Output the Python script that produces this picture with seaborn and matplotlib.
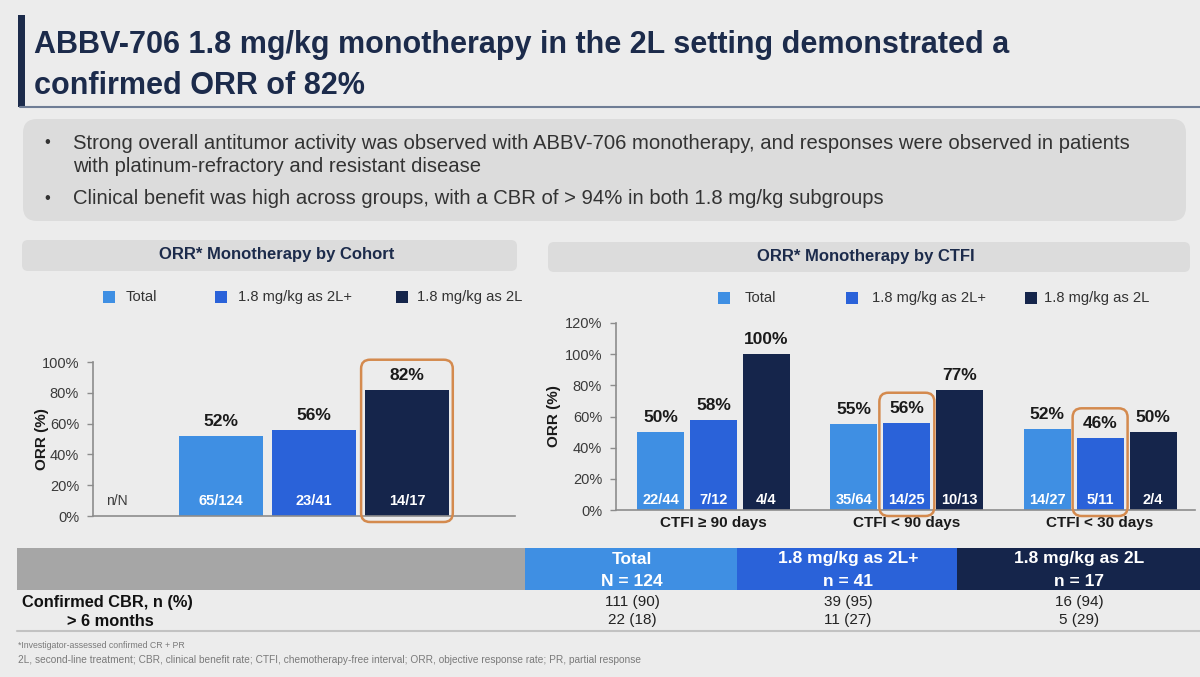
import matplotlib
matplotlib.use('Agg')
import matplotlib.pyplot as plt
import seaborn as sns
import pandas as pd
from matplotlib.patches import FancyBboxPatch, Rectangle
from matplotlib.lines import Line2D

# ---- data ----
series = ['Total', '1.8 mg/kg as 2L+', '1.8 mg/kg as 2L']
cohort_orr = [52, 56, 82]
cohort_nN = ['65/124', '23/41', '14/17']

ctfi_groups = ['CTFI ≥ 90 days', 'CTFI < 90 days', 'CTFI < 30 days']
ctfi_total = [50, 55, 52]
ctfi_2lplus = [58, 56, 46]
ctfi_2l = [100, 77, 50]
ctfi_nN_total = ['22/44', '35/64', '14/27']
ctfi_nN_2lplus = ['7/12', '14/25', '5/11']
ctfi_nN_2l = ['4/4', '10/13', '2/4']

table_cols = ['Total', '1.8 mg/kg as 2L+', '1.8 mg/kg as 2L']
table_ns = ['N = 124', 'n = 41', 'n = 17']
row_labels = ['Confirmed CBR, n (%)', '> 6 months']
cbr_all = ['111 (90)', '39 (95)', '16 (94)']
cbr_6m = ['22 (18)', '11 (27)', '5 (29)']

title_lines = ['ABBV-706 1.8 mg/kg monotherapy in the 2L setting demonstrated a',
               'confirmed ORR of 82%']
bullets = ['Strong overall antitumor activity was observed with ABBV-706 monotherapy, and responses were observed in patients\nwith platinum-refractory and resistant disease',
           'Clinical benefit was high across groups, with a CBR of > 94% in both 1.8 mg/kg subgroups']
footnotes = ['*Investigator-assessed confirmed CR + PR',
             '2L, second-line treatment; CBR, clinical benefit rate; CTFI, chemotherapy-free interval; ORR, objective response rate; PR, partial response']

# ---- style ----
colors = ['#3f8fe3', '#2a62d9', '#15254b']
navy = '#1c2b4b'
orange = '#d48a4e'
bg = '#ececec'
W, H = 1200, 677

sns.set_theme(style='white')
plt.rcParams['font.family'] = ['Liberation Sans', 'DejaVu Sans']

fig = plt.figure(figsize=(W / 100, H / 100), dpi=100)
fig.patch.set_facecolor(bg)


def fx(x):
    return x / W


def fy(y):
    return 1 - y / H


def rbox(x0, y0, x1, y1, fc, ec='none', lw=0, r=8):
    # rounded box in pixel coords (top-left origin), drawn in inches so corners stay round
    b = FancyBboxPatch((x0 / 100, (H - y1) / 100), (x1 - x0) / 100, (y1 - y0) / 100,
                       boxstyle=f'round,pad=0,rounding_size={r / 100}',
                       transform=fig.dpi_scale_trans, fc=fc, ec=ec, lw=lw)
    fig.add_artist(b)


def highlight(ax, bar):
    # orange frame around a bar and its label
    x0, y0 = ax.transData.transform((bar.get_x(), 0))
    x1, y1 = ax.transData.transform((bar.get_x() + bar.get_width(), bar.get_height()))
    b = FancyBboxPatch(((x0 - 4) / 100, (y0 - 6) / 100), (x1 - x0 + 8) / 100, (y1 - y0 + 36) / 100,
                       boxstyle='round,pad=0,rounding_size=0.09',
                       transform=fig.dpi_scale_trans, fc='none', ec=orange, lw=1.8)
    fig.add_artist(b)


# ---- title ----
fig.add_artist(Rectangle((fx(18), fy(107)), 7 / W, 92 / H, transform=fig.transFigure,
                         color=navy, lw=0))
fig.add_artist(Line2D([fx(20), fx(1200)], [fy(107), fy(107)], color='#6f7d95', lw=1.5))
fig.text(fx(34), fy(45), title_lines[0], fontsize=22, fontweight='bold', color=navy, va='center')
fig.text(fx(34), fy(86), title_lines[1], fontsize=22, fontweight='bold', color=navy, va='center')

# ---- bullet box ----
rbox(23, 119, 1186, 221, '#dcdcdc', r=14)
fig.text(fx(44), fy(142), '•', fontsize=12, color='#333333', va='center')
fig.text(fx(73), fy(155), bullets[0], fontsize=14.6, color='#333333', va='center', linespacing=1.32)
fig.text(fx(44), fy(199), '•', fontsize=12, color='#333333', va='center')
fig.text(fx(73), fy(199), bullets[1], fontsize=14.6, color='#333333', va='center')

# ---- chart headers ----
rbox(22, 240, 517, 271, '#dcdcdc', r=6)
fig.text(fx(277), fy(255), 'ORR* Monotherapy by Cohort', fontsize=12, fontweight='bold',
         color=navy, ha='center', va='center')
rbox(548, 242, 1190, 272, '#dcdcdc', r=6)
fig.text(fx(866), fy(257), 'ORR* Monotherapy by CTFI', fontsize=12, fontweight='bold',
         color=navy, ha='center', va='center')


def legend(xs_sq, xs_txt, y):
    for xs, xt, lab, c in zip(xs_sq, xs_txt, series, colors):
        fig.add_artist(Rectangle((fx(xs), fy(y + 6)), 12 / W, 12 / H,
                                 transform=fig.transFigure, color=c, lw=0))
        fig.text(fx(xt), fy(y), lab, fontsize=10.6, color='#333333', va='center')


legend([103, 215, 396], [126, 238, 417], 297)
legend([718, 846, 1025], [745, 872, 1044], 298)


def style_axis(ax):
    ax.set_facecolor('none')
    for s in ['top', 'right']:
        ax.spines[s].set_visible(False)
    for s in ['left', 'bottom']:
        ax.spines[s].set_color('#8c8c8c')
        ax.spines[s].set_linewidth(1.2)
    ax.tick_params(axis='y', which='both', left=True, length=4, width=1, color='#8c8c8c',
                   labelsize=10.5, labelcolor='#3a3a3a', pad=6)
    ax.tick_params(axis='x', length=0)
    ax.yaxis.set_major_formatter(matplotlib.ticker.FuncFormatter(lambda v, p: f'{v:.0f}%'))


# ---- left chart: ORR by cohort ----
ax1 = fig.add_axes([fx(93), fy(516), 422 / W, 154 / H])
sns.barplot(x=series, y=cohort_orr, hue=series, palette=colors, width=0.9,
            legend=False, ax=ax1, errorbar=None, saturation=1, linewidth=0, edgecolor='none')
style_axis(ax1)
ax1.set_ylim(0, 100)
ax1.set_yticks(range(0, 101, 20))
ax1.set_xlim(-1.376, 3.162)
ax1.set_xticks([])
ax1.set_xlabel('')
ax1.set_ylabel('ORR (%)', fontsize=11, fontweight='bold', color='#1a1a1a')
ax1.yaxis.set_label_coords(-0.105, 0.5)

bars1 = [p for c in ax1.containers for p in c]
for bar, v, nn in zip(bars1, cohort_orr, cohort_nN):
    cx = bar.get_x() + bar.get_width() / 2
    ax1.annotate(f'{v}%', (cx, v), xytext=(0, 5), textcoords='offset points',
                 ha='center', va='bottom', fontsize=12.5, fontweight='bold', color='#1a1a1a')
    ax1.annotate(nn, (cx, 0), xytext=(0, 11), textcoords='offset points',
                 ha='center', va='center', fontsize=10.5, fontweight='bold', color='white')
ax1.annotate('n/N', (-1.12, 0), xytext=(0, 11), textcoords='offset points',
             ha='center', va='center', fontsize=10, color='#3a3a3a')
highlight(ax1, bars1[2])

# ---- right chart: ORR by CTFI ----
df = pd.DataFrame({
    'group': ctfi_groups * 3,
    'series': [s for s in series for _ in ctfi_groups],
    'orr': ctfi_total + ctfi_2lplus + ctfi_2l,
})
ax2 = fig.add_axes([fx(616), fy(510), 579 / W, 187 / H])
sns.barplot(data=df, x='group', y='orr', hue='series', order=ctfi_groups, hue_order=series,
            palette=colors, width=0.822, gap=0.113, legend=False, ax=ax2, errorbar=None,
            saturation=1, linewidth=0, edgecolor='none')
style_axis(ax2)
ax2.set_ylim(0, 120)
ax2.set_yticks(range(0, 121, 20))
ax2.set_xlim(-0.505, 2.491)
ax2.set_xlabel('')
ax2.set_ylabel('ORR (%)', fontsize=11, fontweight='bold', color='#1a1a1a')
ax2.yaxis.set_label_coords(-0.095, 0.5)
ax2.tick_params(axis='x', labelsize=11, pad=4)
for t in ax2.get_xticklabels():
    t.set_fontweight('bold')
    t.set_color('#1a1a1a')

vals = [ctfi_total, ctfi_2lplus, ctfi_2l]
nns = [ctfi_nN_total, ctfi_nN_2lplus, ctfi_nN_2l]
for cont, vs, ns in zip(ax2.containers, vals, nns):
    for bar, v, nn in zip(cont, vs, ns):
        cx = bar.get_x() + bar.get_width() / 2
        ax2.annotate(f'{v}%', (cx, v), xytext=(0, 5), textcoords='offset points',
                     ha='center', va='bottom', fontsize=12.5, fontweight='bold', color='#1a1a1a')
        ax2.annotate(nn, (cx, 0), xytext=(0, 7), textcoords='offset points',
                     ha='center', va='center', fontsize=10.5, fontweight='bold', color='white')
highlight(ax2, ax2.containers[1][1])
highlight(ax2, ax2.containers[1][2])

# ---- CBR table ----
fig.add_artist(Rectangle((fx(17), fy(590)), 508 / W, 42 / H, transform=fig.transFigure,
                         color='#a6a6a6', lw=0))
col_edges = [525, 737, 957, 1200]
for i, (c, name, n) in enumerate(zip(colors, table_cols, table_ns)):
    x0, x1 = col_edges[i], col_edges[i + 1]
    fig.add_artist(Rectangle((fx(x0), fy(590)), (x1 - x0) / W, 42 / H,
                             transform=fig.transFigure, color=c, lw=0))
    cx = (x0 + x1) / 2 + 1
    fig.text(fx(cx), fy(559), name, fontsize=12.5, fontweight='bold', color='white',
             ha='center', va='center')
    fig.text(fx(cx), fy(581), n, fontsize=12.5, fontweight='bold', color='white',
             ha='center', va='center')
    fig.text(fx(cx), fy(602), cbr_all[i], fontsize=11, color='#222222', ha='center', va='center')
    fig.text(fx(cx), fy(620), cbr_6m[i], fontsize=11, color='#222222', ha='center', va='center')
fig.text(fx(22), fy(602), row_labels[0], fontsize=11.75, fontweight='bold', color='#111111', va='center')
fig.text(fx(67), fy(621), row_labels[1], fontsize=11.75, fontweight='bold', color='#111111', va='center')
fig.add_artist(Line2D([fx(17), fx(1200)], [fy(631), fy(631)], color='#c2c2c2', lw=1.5))

fig.text(fx(18), fy(646), footnotes[0], fontsize=6.3, color='#7a7a7a', va='center')
fig.text(fx(18), fy(660), footnotes[1], fontsize=7.3, color='#7a7a7a', va='center')

fig.savefig('out.png', dpi=100, facecolor=fig.get_facecolor())
